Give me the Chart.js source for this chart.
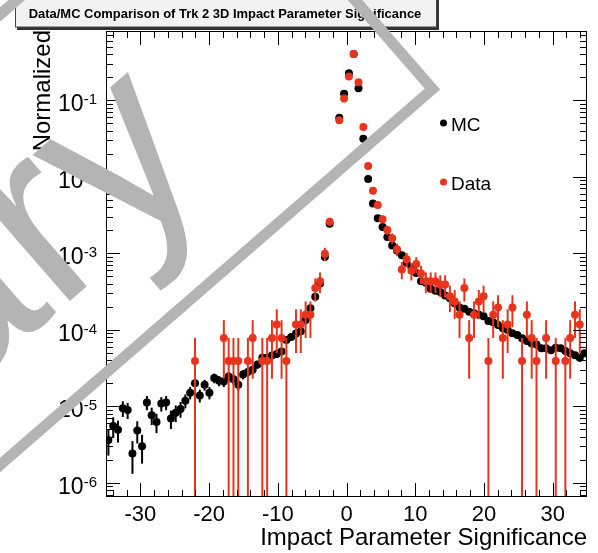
<!DOCTYPE html>
<html>
<head>
<meta charset="utf-8">
<script src="https://cdn.jsdelivr.net/npm/chart.js@4.4.0/dist/chart.umd.min.js"></script>
<style>
  html, body { margin: 0; padding: 0; background: #fff; }
  canvas { display: block; }
</style>
</head>
<body>
<canvas id="c" width="598" height="553"></canvas>
<script>
// bin centres of the histogram (100 bins, -35..35)
const binCenters = [
  -34.65,-33.95,-33.25,-32.55,-31.85,-31.15,-30.45,-29.75,-29.05,-28.35,
  -27.65,-26.95,-26.25,-25.55,-24.85,-24.15,-23.45,-22.75,-22.05,-21.35,
  -20.65,-19.95,-19.25,-18.55,-17.85,-17.15,-16.45,-15.75,-15.05,-14.35,
  -13.65,-12.95,-12.25,-11.55,-10.85,-10.15,-9.45,-8.75,-8.05,-7.35,
  -6.65,-5.95,-5.25,-4.55,-3.85,-3.15,-2.45,-1.75,-1.05,-0.35,
  0.35,1.05,1.75,2.45,3.15,3.85,4.55,5.25,5.95,6.65,
  7.35,8.05,8.75,9.45,10.15,10.85,11.55,12.25,12.95,13.65,
  14.35,15.05,15.75,16.45,17.15,17.85,18.55,19.25,19.95,20.65,
  21.35,22.05,22.75,23.45,24.15,24.85,25.55,26.25,26.95,27.65,
  28.35,29.05,29.75,30.45,31.15,31.85,32.55,33.25,33.95,34.65
];

const mcValues = [
  3.6e-6,5.5e-6,4.9e-6,9.4e-6,8.9e-6,2.4e-6,4.8e-6,3.0e-6,1.12e-5,7.6e-6,
  6.2e-6,1.08e-5,1.12e-5,6.9e-6,8.2e-6,9.2e-6,1.18e-5,1.5e-5,2.0e-5,1.38e-5,
  1.9e-5,1.5e-5,2.33e-5,2.15e-5,2.1e-5,2.45e-5,2.25e-5,1.9e-5,2.6e-5,2.8e-5,
  3.0e-5,3.5e-5,4.3e-5,4.3e-5,4.6e-5,4.8e-5,5.2e-5,7.3e-5,8.0e-5,8.9e-5,
  9.5e-5,1.34e-4,1.91e-4,2.7e-4,4.0e-4,8.9e-4,2.43e-3,1.05e-2,5.9e-2,0.121,
  0.224,0.40,0.143,0.0313,9.3e-3,4.47e-3,2.86e-3,2.2e-3,1.62e-3,1.26e-3,
  1.08e-3,9.4e-4,7.5e-4,6.5e-4,5.5e-4,4.3e-4,4.1e-4,3.43e-4,3.23e-4,3.1e-4,
  2.8e-4,2.58e-4,2.22e-4,1.95e-4,1.87e-4,1.72e-4,1.64e-4,1.56e-4,1.5e-4,1.3e-4,
  1.25e-4,1.15e-4,1.04e-4,9.9e-5,8.95e-5,8.5e-5,7.7e-5,7.1e-5,6.6e-5,6.4e-5,
  5.7e-5,5.7e-5,5.4e-5,5.8e-5,5.7e-5,5.25e-5,4.9e-5,4.64e-5,4.28e-5,4.9e-5
];

// empty data bins are null
const dataValues = [
  null,null,null,null,null,null,null,null,null,null,
  null,null,null,null,null,null,null,null,3.9e-5,null,
  null,null,null,null,7.8e-5,3.9e-5,3.9e-5,3.9e-5,null,3.9e-5,
  7.8e-5,null,3.9e-5,3.9e-5,7.8e-5,1.17e-4,7.8e-5,3.9e-5,null,1.17e-4,
  1.17e-4,1.56e-4,1.56e-4,3.5e-4,4.3e-4,9.8e-4,2.58e-3,1.07e-2,5.45e-2,0.105,
  0.203,0.40,0.171,0.0446,1.38e-2,6.55e-3,4.25e-3,2.78e-3,2.0e-3,1.57e-3,
  1.12e-3,6.1e-4,8.3e-4,5.9e-4,7.2e-4,5.4e-4,4.3e-4,4.3e-4,4.3e-4,3.9e-4,
  3.9e-4,2.73e-4,2.34e-4,1.56e-4,3.5e-4,7.8e-5,1.56e-4,2.34e-4,2.73e-4,3.9e-5,
  1.56e-4,1.95e-4,7.8e-5,1.17e-4,1.95e-4,null,3.9e-5,1.56e-4,7.8e-5,3.9e-5,
  null,7.8e-5,null,3.9e-5,null,3.9e-5,7.8e-5,1.56e-4,1.17e-4,null
];

// weight of one entry, used for the poisson error bars
const DATA_WEIGHT = 3.9e-5;
const MC_WEIGHT = 5e-7;

const xTicks = [-30, -20, -10, 0, 10, 20, 30];
const yExponents = [-6, -5, -4, -3, -2, -1];

const TITLE = "Data/MC Comparison of Trk 2 3D Impact Parameter Significance";
const X_TITLE = "Impact Parameter Significance";
const Y_TITLE = "Normalized";
const WATERMARK = "Preliminary";

const RED = "#e8341c";
const FONT = '"Liberation Sans", Arial, Helvetica, sans-serif';

const toPoints = (vals, w) =>
  vals.map((v, i) => (v == null ? null : { x: binCenters[i], y: v, err: Math.sqrt(v * w) }))
      .filter(p => p);

const errorBars = {
  id: "errorBars",
  beforeDatasetDraw(chart, args) {
    const { ctx, chartArea: a, scales: { x, y } } = chart;
    const ds = chart.data.datasets[args.index];
    ctx.save();
    ctx.beginPath();
    ctx.rect(a.left, a.top, a.right - a.left, a.bottom - a.top);
    ctx.clip();
    ctx.strokeStyle = ds.borderColor;
    ctx.lineWidth = 2;
    ds.data.forEach(p => {
      const px = x.getPixelForValue(p.x);
      const lo = p.y - p.err;
      const y1 = lo > 0 ? y.getPixelForValue(lo) : a.bottom + 2;
      const y2 = y.getPixelForValue(p.y + p.err);
      ctx.beginPath();
      ctx.moveTo(px, y1);
      ctx.lineTo(px, y2);
      ctx.stroke();
    });
    ctx.restore();
  }
};

const frame = {
  id: "frame",
  afterDraw(chart) {
    const { ctx, chartArea: a, scales: { x, y } } = chart;
    ctx.save();
    ctx.strokeStyle = "#000";
    ctx.fillStyle = "#000";
    ctx.lineWidth = 1;
    const seg = (x1, y1, x2, y2) => { ctx.beginPath(); ctx.moveTo(x1, y1); ctx.lineTo(x2, y2); ctx.stroke(); };

    ctx.strokeRect(a.left + 0.5, a.top + 0.5, a.right - a.left - 1, a.bottom - a.top - 1);

    // x ticks, major every 10 minor every 2
    for (let v = -34; v <= 34; v += 2) {
      const px = Math.round(x.getPixelForValue(v)) + 0.5;
      const len = v % 10 === 0 ? 14 : 7;
      seg(px, a.bottom, px, a.bottom - len);
      seg(px, a.top, px, a.top + len);
    }
    // y ticks (log)
    for (let e = -7; e <= 0; e++) {
      for (let m = 1; m <= 9; m++) {
        const v = m * Math.pow(10, e);
        if (v < y.min || v > y.max) continue;
        const py = Math.round(y.getPixelForValue(v)) + 0.5;
        const len = m === 1 ? 14 : 7;
        seg(a.left, py, a.left + len, py);
        seg(a.right, py, a.right - len, py);
      }
    }

    // x labels
    ctx.font = "22px " + FONT;
    ctx.textAlign = "center";
    ctx.textBaseline = "alphabetic";
    xTicks.forEach(v => ctx.fillText(String(v), x.getPixelForValue(v), a.bottom + 24));

    // y labels 10^n
    yExponents.forEach(e => {
      const py = y.getPixelForValue(Math.pow(10, e));
      const sup = String(e);
      ctx.font = "15px " + FONT;
      const sw = ctx.measureText(sup).width;
      ctx.textAlign = "left";
      ctx.fillText(sup, 97 - sw, py + 4);
      ctx.font = "23px " + FONT;
      ctx.textAlign = "right";
      ctx.fillText("10", 97 - sw, py + 11);
    });

    // axis titles
    ctx.font = "24px " + FONT;
    ctx.textAlign = "right";
    ctx.fillText(X_TITLE, a.right, 545);
    ctx.save();
    ctx.translate(50, a.top - 1);
    ctx.rotate(-Math.PI / 2);
    ctx.fillText(Y_TITLE, 0, 0);
    ctx.restore();

    // legend
    ctx.font = "19px " + FONT;
    ctx.textAlign = "left";
    chart.data.datasets.forEach((ds, i) => {
      const ly = i === 0 ? 123 : 182;
      ctx.fillStyle = ds.backgroundColor;
      ctx.beginPath();
      ctx.arc(443.5, ly, 3.5, 0, Math.PI * 2);
      ctx.fill();
      ctx.fillStyle = "#000";
      ctx.fillText(ds.label, 451, ly + 7.5);
    });

    // title box with shadow
    ctx.fillStyle = "#333";
    ctx.fillRect(17, 27, 422, 3);
    ctx.fillRect(436, 0, 3, 30);
    ctx.fillStyle = "#f2f2f2";
    ctx.fillRect(15, -2, 421, 29);
    ctx.strokeStyle = "#444";
    ctx.strokeRect(15.5, -2, 421, 29);
    ctx.fillStyle = "#000";
    ctx.font = "bold 13px " + FONT;
    const tw = ctx.measureText(TITLE).width;
    const fs = 13 * 393 / tw;
    ctx.font = "bold " + fs.toFixed(2) + "px " + FONT;
    ctx.textAlign = "center";
    ctx.fillText(TITLE, 225, 17.5);
    ctx.restore();
  }
};

const watermark = {
  id: "watermark",
  afterDraw(chart) {
    const ctx = chart.ctx;
    ctx.save();
    ctx.translate(0, 465);
    ctx.rotate(-41 * Math.PI / 180);
    ctx.strokeStyle = "#b4b4b4";
    ctx.fillStyle = "#b4b4b4";
    ctx.lineWidth = 11;
    ctx.beginPath();
    ctx.moveTo(-900, -340);
    ctx.lineTo(573, -340);
    ctx.lineTo(573, 0);
    ctx.lineTo(-900, 0);
    ctx.stroke();
    ctx.font = "255px " + FONT;
    ctx.textAlign = "right";
    ctx.textBaseline = "alphabetic";
    ctx.fillText(WATERMARK, 355, -78);
    ctx.restore();
  }
};

new Chart(document.getElementById("c"), {
  type: "scatter",
  data: {
    datasets: [
      {
        label: "MC",
        data: toPoints(mcValues, MC_WEIGHT),
        backgroundColor: "#000",
        borderColor: "#000",
        pointRadius: 4,
        pointBorderWidth: 0,
        order: 1
      },
      {
        label: "Data",
        data: toPoints(dataValues, DATA_WEIGHT),
        backgroundColor: RED,
        borderColor: RED,
        pointRadius: 4,
        pointBorderWidth: 0,
        order: 0
      }
    ]
  },
  options: {
    responsive: false,
    animation: false,
    devicePixelRatio: 1,
    layout: { padding: { left: 106, right: 11, top: 31, bottom: 56 } },
    scales: {
      x: { type: "linear", min: -35, max: 35, display: false },
      y: { type: "logarithmic", min: 6.5e-7, max: 0.8, display: false }
    },
    plugins: { legend: { display: false }, tooltip: { enabled: false } },
    events: []
  },
  plugins: [errorBars, frame, watermark]
});
</script>
</body>
</html>
